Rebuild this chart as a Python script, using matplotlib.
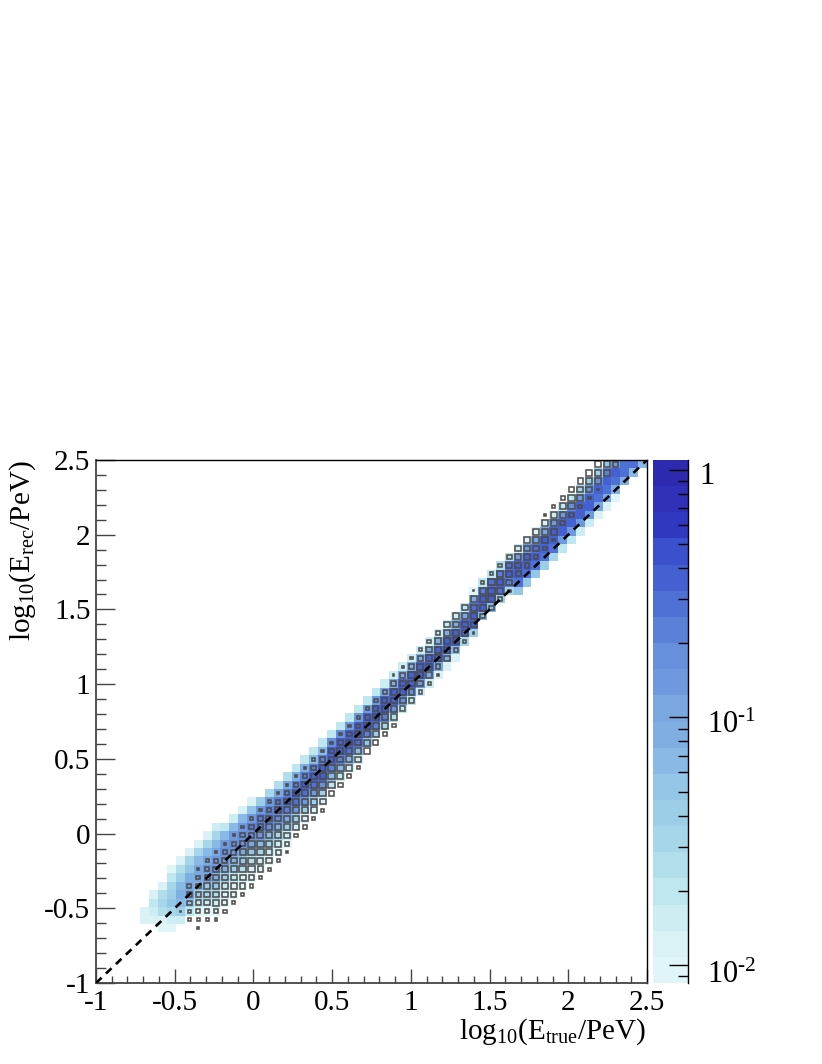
import numpy as np
import matplotlib
matplotlib.use('Agg')
import matplotlib.pyplot as plt
from matplotlib.colors import ListedColormap, LogNorm
from matplotlib.patches import Rectangle
from matplotlib.ticker import LogLocator, NullFormatter
from matplotlib.transforms import ScaledTranslation

plt.rcParams['font.family'] = ['Liberation Serif', 'DejaVu Serif']
plt.rcParams['mathtext.fontset'] = 'custom'
plt.rcParams['mathtext.rm'] = 'Liberation Serif'
plt.rcParams['mathtext.it'] = 'Liberation Serif'
plt.rcParams['axes.unicode_minus'] = False

N_BINS = 62
AXIS_MIN = -1
AXIS_MAX = 2.5
Z_MIN = 0.00846
Z_MAX = 1.097

TICK_VALUES = [-1, -0.5, 0, 0.5, 1, 1.5, 2, 2.5]
TICK_LABELS = ['-1', '-0.5', '0', '0.5', '1', '1.5', '2', '2.5']

# one colour per colour bar band, lightest first
BAND_COLORS = ['#E0F5F8', '#DAF2F6', '#CCEDF3', '#BEE7EF', '#B1DEEB',
               '#A6D6E9', '#9CCEE8', '#93C6E7', '#89BAE5', '#7FAEE3',
               '#7AA7E0', '#6F99DE', '#6790DC', '#5A80D8', '#4F70D4',
               '#4560D0', '#3B50CC', '#3038C0', '#3030B8', '#2E2AB0']

# colour histogram, columns 5 to 61: lowest filled row and band of each cell
HEAT_FIRST_ROW = [7, 7, 6, 6, 7, 8, 8, 8, 8, 9, 10, 11, 12, 13, 14, 15, 16,
                  18, 19, 20, 21, 23, 24, 25, 26, 28, 29, 30, 31, 32, 33, 34,
                  35, 36, 37, 38, 40, 41, 43, 44, 45, 46, 46, 47, 48, 49, 50,
                  51, 52, 53, 54, 55, 56, 57, 59, 60, 61]
HEAT_BANDS = [
    [1, 1],
    [1, 2, 3, 1],
    [0, 1, 4, 5, 4, 1],
    [0, 2, 5, 7, 6, 5, 3, 0],
    [2, 6, 8, 9, 8, 6, 4, 1],
    [3, 7, 10, 10, 9, 7, 5, 1],
    [0, 3, 6, 8, 10, 10, 8, 5, 1],
    [0, 2, 5, 7, 10, 11, 10, 8, 5, 1],
    [0, 2, 4, 7, 9, 11, 11, 10, 8, 5, 2],
    [0, 1, 3, 6, 9, 11, 12, 11, 8, 3],
    [0, 1, 3, 6, 9, 11, 12, 11, 8, 2],
    [0, 1, 4, 7, 10, 12, 12, 11, 8, 1],
    [0, 1, 4, 7, 10, 12, 13, 11, 7, 1],
    [0, 2, 5, 8, 11, 13, 13, 11, 6],
    [0, 2, 5, 8, 12, 13, 13, 11, 5],
    [0, 2, 5, 9, 12, 14, 13, 10, 4],
    [0, 2, 6, 10, 13, 14, 13, 10, 4],
    [2, 6, 11, 14, 15, 13, 9, 3],
    [1, 6, 11, 14, 15, 13, 9, 3],
    [1, 6, 11, 14, 15, 13, 8, 3],
    [1, 6, 12, 15, 15, 13, 8, 3],
    [3, 8, 13, 15, 15, 12, 3],
    [3, 8, 13, 15, 15, 12, 3],
    [2, 8, 14, 15, 15, 11, 3],
    [2, 8, 14, 15, 15, 11, 3],
    [7, 13, 15, 15, 11, 3],
    [6, 13, 15, 15, 11, 3],
    [5, 13, 15, 15, 10, 2],
    [4, 12, 15, 15, 9, 2],
    [3, 12, 15, 15, 9, 2],
    [3, 12, 15, 15, 9, 2],
    [2, 11, 15, 15, 9, 2],
    [2, 10, 15, 15, 9, 2],
    [1, 10, 15, 15, 9, 2],
    [1, 9, 15, 15, 9, 2],
    [1, 8, 15, 15, 9, 2],
    [5, 14, 15, 10, 3],
    [6, 15, 15, 14, 9, 0],
    [8, 15, 15, 13, 3],
    [8, 15, 15, 14, 3],
    [6, 14, 15, 13, 4],
    [5, 13, 15, 14, 4],
    [7, 14, 15, 15, 11, 2],
    [7, 14, 15, 15, 11, 1],
    [7, 14, 15, 14, 10, 1],
    [6, 14, 15, 15, 10, 1],
    [5, 14, 15, 15, 11, 2],
    [3, 11, 15, 15, 11, 3],
    [3, 11, 15, 15, 12, 3],
    [2, 11, 15, 15, 11, 5],
    [2, 11, 15, 15, 12, 6],
    [1, 10, 14, 15, 12, 6],
    [1, 10, 14, 15, 13, 7],
    [0, 9, 14, 15, 11],
    [9, 14, 14],
    [8, 14],
    [8],
]

# box histogram, columns 9 to 58: lowest row and box side as part of a cell
BOX_FIRST_ROW = [8, 7, 6, 7, 7, 8, 9, 10, 11, 12, 13, 14, 15, 17, 18, 19, 20,
                 22, 23, 24, 25, 27, 28, 29, 30, 32, 33, 34, 35, 36, 38, 39,
                 40, 41, 43, 44, 45, 46, 48, 49, 50, 51, 52, 54, 55, 56, 57,
                 58, 60, 61]
BOX_SIZES = [
    [.15],
    [.3, .35, .45, .48, .36],
    [.15, .3, .42, .5, .52, .5, .35, .15],
    [.3, .45, .52, .55, .52, .5, .42, .28],
    [.28, .42, .55, .58, .58, .55, .5, .4, .25],
    [.35, .5, .58, .58, .58, .58, .5, .42, .22],
    [.33, .5, .58, .6, .6, .58, .52, .42, .22],
    [.33, .52, .6, .62, .6, .6, .52, .42, .25],
    [.33, .52, .6, .62, .62, .6, .52, .42, .25],
    [.33, .55, .6, .62, .62, .6, .55, .42, .25],
    [.33, .55, .6, .62, .62, .6, .55, .42, .25],
    [.3, .5, .6, .62, .62, .6, .55, .42, .25],
    [.2, .45, .58, .62, .62, .6, .55, .42, .22],
    [.38, .58, .62, .62, .6, .55, .42, .22],
    [.35, .58, .62, .62, .6, .55, .42, .22],
    [.3, .58, .62, .62, .6, .55, .45, .25],
    [.3, .58, .62, .62, .6, .55, .45, .25],
    [.5, .6, .62, .6, .58, .42, .22],
    [.42, .6, .62, .6, .58, .45, .25],
    [.38, .6, .62, .6, .58, .45, .25],
    [.3, .6, .62, .6, .58, .45, .28],
    [.55, .62, .6, .6, .5, .3],
    [.5, .62, .6, .6, .5, .33],
    [.42, .62, .6, .6, .5, .33],
    [.35, .6, .6, .6, .58, .5, .15],
    [.5, .6, .6, .6, .5, .2],
    [.45, .58, .6, .6, .5, .25],
    [.35, .58, .6, .6, .55, .33],
    [.3, .58, .6, .6, .55, .38],
    [.15, .45, .6, .6, .6, .38],
    [.5, .6, .6, .6, .5],
    [.42, .6, .6, .6, .58],
    [.3, .6, .6, .6, .58],
    [.15, .55, .6, .6, .6, .15],
    [.45, .6, .6, .6, .3],
    [.4, .6, .6, .6, .33],
    [.38, .6, .6, .6, .4],
    [.25, .58, .6, .6, .48],
    [.5, .6, .6, .55],
    [.45, .6, .6, .58],
    [.4, .6, .6, .6],
    [.35, .6, .6, .6, .15],
    [.25, .6, .6, .6, .3],
    [.45, .6, .6, .38],
    [.42, .6, .6, .48],
    [.38, .6, .6, .55],
    [.3, .6, .6, .6],
    [.2, .6, .6, .6],
    [.6, .6],
    [.5],
]

edges = np.linspace(AXIS_MIN, AXIS_MAX, N_BINS + 1)
cell = edges[1] - edges[0]

# band number -> value in the middle of that band of the colour bar
band_ratio = (Z_MAX / Z_MIN) ** (1 / len(BAND_COLORS))
heat = np.full((N_BINS, N_BINS), np.nan)
for col, (first, bands) in enumerate(zip(HEAT_FIRST_ROW, HEAT_BANDS), start=5):
    for row, band in enumerate(bands, start=first):
        heat[row, col] = Z_MIN * band_ratio ** (band + 0.5)

fig = plt.figure(figsize=(8.22, 10.64), dpi=100)
ax = fig.add_axes([96 / 822, 81 / 1064, 551 / 822, 523 / 1064])
cax = fig.add_axes([653 / 822, 81 / 1064, 35 / 822, 523 / 1064])

cmap = ListedColormap(BAND_COLORS)
mesh = ax.pcolormesh(edges, edges, np.ma.masked_invalid(heat), cmap=cmap,
                     norm=LogNorm(Z_MIN, Z_MAX), linewidth=0, rasterized=True)

for col, (first, sizes) in enumerate(zip(BOX_FIRST_ROW, BOX_SIZES), start=9):
    for row, size in enumerate(sizes, start=first):
        side = size * 1.15 * cell
        ax.add_patch(Rectangle((edges[col] + (cell - side) / 2,
                                edges[row] + (cell - side) / 2), side, side,
                               fill=False, edgecolor='#4a4a4a', linewidth=1.1))

ax.plot([AXIS_MIN, AXIS_MAX], [AXIS_MIN, AXIS_MAX], color='black', linewidth=1.9,
        dashes=(2.9, 2.3), zorder=5)

ax.set_xlim(AXIS_MIN, AXIS_MAX)
ax.set_ylim(AXIS_MIN, AXIS_MAX)
ax.set_xticks(TICK_VALUES)
ax.set_xticklabels(TICK_LABELS)
ax.set_yticks(TICK_VALUES)
ax.set_yticklabels(TICK_LABELS)
ax.set_xticks(np.arange(-1, 2.5, 0.1), minor=True)
ax.set_yticks(np.arange(-1, 2.5, 0.1), minor=True)
ax.tick_params(axis='x', which='major', direction='in', length=10, width=1, labelsize=21,
               pad=5, color='#444444')
ax.tick_params(axis='x', which='minor', direction='in', length=5, width=1, color='#444444')
ax.tick_params(axis='y', which='major', direction='in', length=14, width=1, labelsize=21,
               pad=4, color='#444444')
ax.tick_params(axis='y', which='minor', direction='in', length=7, width=1, color='#444444')
ax.spines['left'].set_linewidth(1.3)
ax.spines['bottom'].set_linewidth(1.3)
ax.spines['left'].set_color('#444444')
ax.spines['bottom'].set_color('#444444')
ax.spines['top'].set_linewidth(1)
ax.spines['right'].set_linewidth(1)

fig.text(646 / 822, 1 - 1039 / 1064, r'$\mathrm{log_{10}(E_{true}/PeV)}$', fontsize=21,
         ha='right', va='baseline')
fig.text(30 / 822, 1 - 460 / 1064, r'$\mathrm{log_{10}(E_{rec}/PeV)}$', fontsize=21,
         rotation=90, rotation_mode='anchor', ha='right', va='baseline')

cbar = fig.colorbar(mesh, cax=cax)
cbar.outline.set_visible(False)
cax.spines['right'].set_visible(True)
cax.spines['right'].set_linewidth(1)
cax.yaxis.set_minor_locator(LogLocator(base=10, subs=np.arange(2, 10) * 0.1, numticks=12))
cax.yaxis.set_minor_formatter(NullFormatter())
cax.set_yticks([0.01, 0.1, 1])
cax.set_yticklabels([r'$\mathrm{10^{\text{-}2}}$', r'$\mathrm{10^{\text{-}1}}$', '1'])
cax.tick_params(axis='y', which='major', direction='in', length=14, width=1,
                labelsize=22, pad=8, right=True, left=False)
cax.tick_params(axis='y', which='minor', direction='in', length=7, width=1, right=True, left=False)

# the colour bar labels sit lower than their ticks, the power labels further right
offsets = [(8, -7), (8, -4), (0, -3)]
for label, (dx, dy) in zip(cax.get_yticklabels(), offsets):
    label.set_transform(label.get_transform() + ScaledTranslation(dx / 100, dy / 100, fig.dpi_scale_trans))

plt.savefig('out.png', dpi=100)
